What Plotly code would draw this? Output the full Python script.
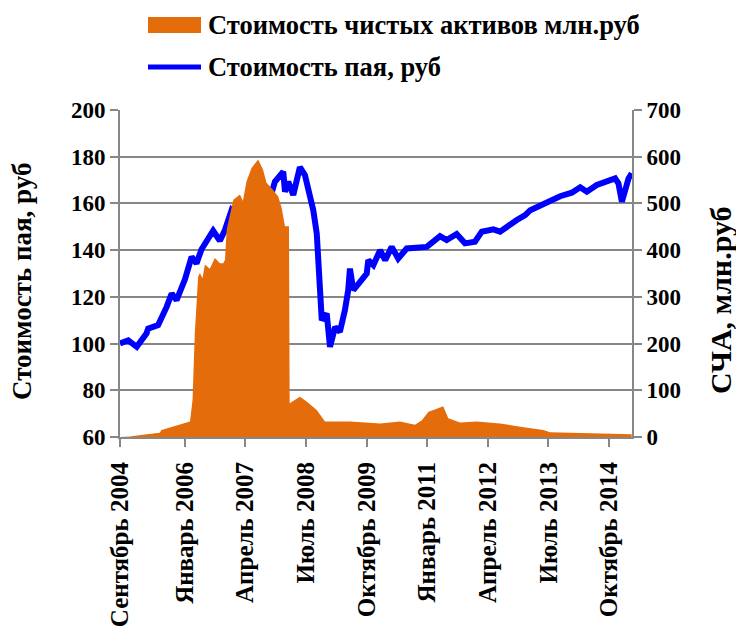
import plotly.graph_objects as go

# ---- data ----
nav_dates = ["2004-09-01", "2004-11-15", "2005-02-20", "2005-06-27", "2005-07-10", "2005-10-06",
             "2006-02-10", "2006-03-01", "2006-03-18", "2006-04-12", "2006-04-25", "2006-05-15",
             "2006-06-02", "2006-07-09", "2006-08-16", "2006-09-23", "2006-10-18", "2006-10-31",
             "2006-11-13", "2007-01-02", "2007-02-21", "2007-03-15", "2007-04-11", "2007-05-19",
             "2007-07-08", "2007-08-14", "2007-09-09", "2007-10-29", "2007-12-06", "2008-01-01",
             "2008-01-26", "2008-02-25", "2008-03-01", "2008-05-17", "2008-07-07", "2008-09-21",
             "2008-11-22", "2009-05-29", "2010-01-11", "2010-06-10", "2010-10-01", "2010-11-21",
             "2011-01-10", "2011-02-17", "2011-05-01", "2011-06-08", "2011-09-05", "2012-01-09",
             "2012-07-02", "2012-12-01", "2013-05-24", "2013-07-13", "2014-06-05", "2015-03-20"]
nav_values = [0, 1, 5, 9, 15, 22,
              33, 79, 222, 343, 351, 340,
              369, 360, 383, 372, 372, 379,
              444, 508, 519, 505, 547, 576,
              594, 572, 544, 529, 515, 490,
              451, 451, 72, 86, 76, 58,
              33, 33, 29, 33, 26, 36,
              54, 58, 66, 40, 31, 33,
              29, 22, 15, 10, 8, 6]

price_dates = ["2004-09-01", "2004-11-02", "2005-01-05", "2005-03-19", "2005-04-01", "2005-06-15",
               "2005-08-18", "2005-09-25", "2005-11-01", "2006-01-03", "2006-02-22", "2006-03-31",
               "2006-05-07", "2006-08-03", "2006-09-23", "2006-10-31", "2006-12-20", "2007-02-21",
               "2007-04-11", "2007-06-25", "2007-08-14", "2007-09-21", "2007-11-11", "2008-01-13",
               "2008-01-26", "2008-02-20", "2008-03-28", "2008-05-04", "2008-05-17", "2008-06-24",
               "2008-08-01", "2008-08-26", "2008-09-21", "2008-10-01", "2008-10-16", "2008-10-29",
               "2008-12-05", "2008-12-30", "2009-02-06", "2009-03-14", "2009-04-21", "2009-05-16",
               "2009-05-29", "2009-06-23", "2009-08-13", "2009-10-02", "2009-10-14", "2009-11-21",
               "2010-01-11", "2010-02-18", "2010-04-08", "2010-05-27", "2010-07-30", "2010-10-25",
               "2010-12-28", "2011-04-07", "2011-05-27", "2011-08-10", "2011-10-12", "2011-12-26",
               "2012-02-15", "2012-05-12", "2012-07-02", "2012-11-05", "2013-01-07", "2013-02-14",
               "2013-06-18", "2013-09-27", "2013-12-24", "2014-02-25", "2014-04-16", "2014-06-30",
               "2014-11-15", "2014-12-10", "2015-01-05", "2015-01-30", "2015-02-24", "2015-03-20"]
price_values = [100, 101.4, 98.6, 104.3, 106.4, 107.9,
                115.7, 121.4, 118.6, 127.5, 137.1, 134.3,
                140.3, 148.3, 144, 148.6, 157.1, 153.6,
                161, 156.4, 164.3, 159.3, 169.3, 173.6,
                165, 169.3, 163.6, 174.3, 175.5, 172.1,
                162.9, 157.1, 147.1, 138, 124, 110,
                112.9, 98.6, 107.1, 105, 114.3, 122.9,
                132.1, 122.9, 126.4, 130, 135.7, 133.6,
                140, 135.7, 141.4, 136.4, 140.7, 141.4,
                141.4, 146, 144.3, 146.9, 142.9, 143.6,
                147.9, 148.9, 147.9, 152.9, 155, 157.1,
                160.7, 163.1, 164.6, 166.9, 165, 167.9,
                170.7, 168.6, 160.7, 165.7, 170.7, 172.9]

tick_dates = ["2004-09-01", "2006-01-01", "2007-04-01", "2008-07-01", "2009-10-01",
              "2011-01-01", "2012-04-01", "2013-07-01", "2014-10-01"]
tick_labels = ["Сентябрь 2004", "Январь 2006", "Апрель 2007", "Июль 2008", "Октябрь 2009",
               "Январь 2011", "Апрель 2012", "Июль 2013", "Октябрь 2014"]
price_ticks = [60, 80, 100, 120, 140, 160, 180, 200]
nav_ticks = [0, 100, 200, 300, 400, 500, 600, 700]

nav_name = "Стоимость чистых активов млн.руб"
price_name = "Стоимость пая, руб"
nav_axis_title = "СЧА, млн.руб"
ORANGE = "#E46C0A"
BLUE = "#0000FF"

FONT = "Liberation Serif"
GRID = "#878787"

# page is offset by the 8px body margin, so the figure is 8px smaller
W, H = 736, 627
ML, MR, MT, MB = 112, 112, 102, 198
PW, PH = W - ML - MR, H - MT - MB


def px(fx):
    return (fx - 8 - ML) / PW


def py(fy):
    return (H - MB - (fy - 8)) / PH


def bfont(size):
    return dict(family=FONT, size=size, color="black", weight="bold")


def bold(items):
    return ["<b>%s</b>" % t for t in items]


fig = go.Figure()
fig.add_trace(go.Scatter(
    x=nav_dates, y=nav_values, yaxis="y2", mode="lines",
    line=dict(width=0, color=ORANGE), fill="tozeroy", fillcolor=ORANGE,
    name=nav_name, showlegend=False))
fig.add_trace(go.Scatter(
    x=price_dates, y=price_values, mode="lines",
    line=dict(width=6, color=BLUE),
    name=price_name, showlegend=False))

# legend drawn as shapes + text (page pixel positions from the reference)
fig.add_shape(type="rect", xref="paper", yref="paper",
              x0=px(148), x1=px(201), y0=py(33), y1=py(17),
              fillcolor=ORANGE, line=dict(width=0))
fig.add_shape(type="line", xref="paper", yref="paper",
              x0=px(148), x1=px(201), y0=py(67), y1=py(67),
              line=dict(color=BLUE, width=5))
for txt, yy in [(nav_name, 25), (price_name, 67)]:
    fig.add_annotation(text=txt, xref="paper", yref="paper", x=px(206), y=py(yy),
                       xanchor="left", yanchor="middle", showarrow=False, font=bfont(26.5))

# axis titles placed as rotated text
fig.add_annotation(text=price_name, xref="paper", yref="paper", x=px(22), y=py(282),
                   xanchor="center", yanchor="middle", textangle=-90, showarrow=False,
                   font=bfont(27))
fig.add_annotation(text=nav_axis_title, xref="paper", yref="paper", x=px(720), y=py(300),
                   xanchor="center", yanchor="middle", textangle=-90, showarrow=False,
                   font=bfont(30))

fig.update_layout(
    width=W, height=H,
    margin=dict(l=ML, r=MR, t=MT, b=MB),
    paper_bgcolor="white", plot_bgcolor="white",
    font=bfont(22),
    showlegend=False,
    xaxis=dict(type="date", range=["2004-09-01", "2015-03-22"], automargin=False,
               tickmode="array", tickvals=tick_dates, ticktext=bold(tick_labels),
               tickangle=-90, ticks="outside", ticklen=8, tickcolor=GRID, tickwidth=2,
               ticklabelstandoff=5,
               showline=True, linecolor=GRID, linewidth=2, showgrid=False, zeroline=False,
               tickfont=bfont(25)),
    yaxis=dict(range=[60, 200], tickmode="array", tickvals=price_ticks,
               ticktext=bold([str(v) for v in price_ticks]),
               ticks="outside", ticklen=8, automargin=False,
               tickcolor=GRID, tickwidth=2, showline=True, linecolor=GRID, linewidth=2,
               showgrid=True, gridcolor=GRID, gridwidth=2, zeroline=False,
               tickfont=bfont(23)),
    yaxis2=dict(range=[0, 700], tickmode="array", tickvals=nav_ticks,
                ticktext=bold([str(v) for v in nav_ticks]),
                overlaying="y", side="right", automargin=False,
                ticks="outside", ticklen=8, tickcolor=GRID, tickwidth=2,
                showline=True, linecolor=GRID, linewidth=2, showgrid=False, zeroline=False,
                tickfont=bfont(23)),
)

fig.write_html("out.html")
